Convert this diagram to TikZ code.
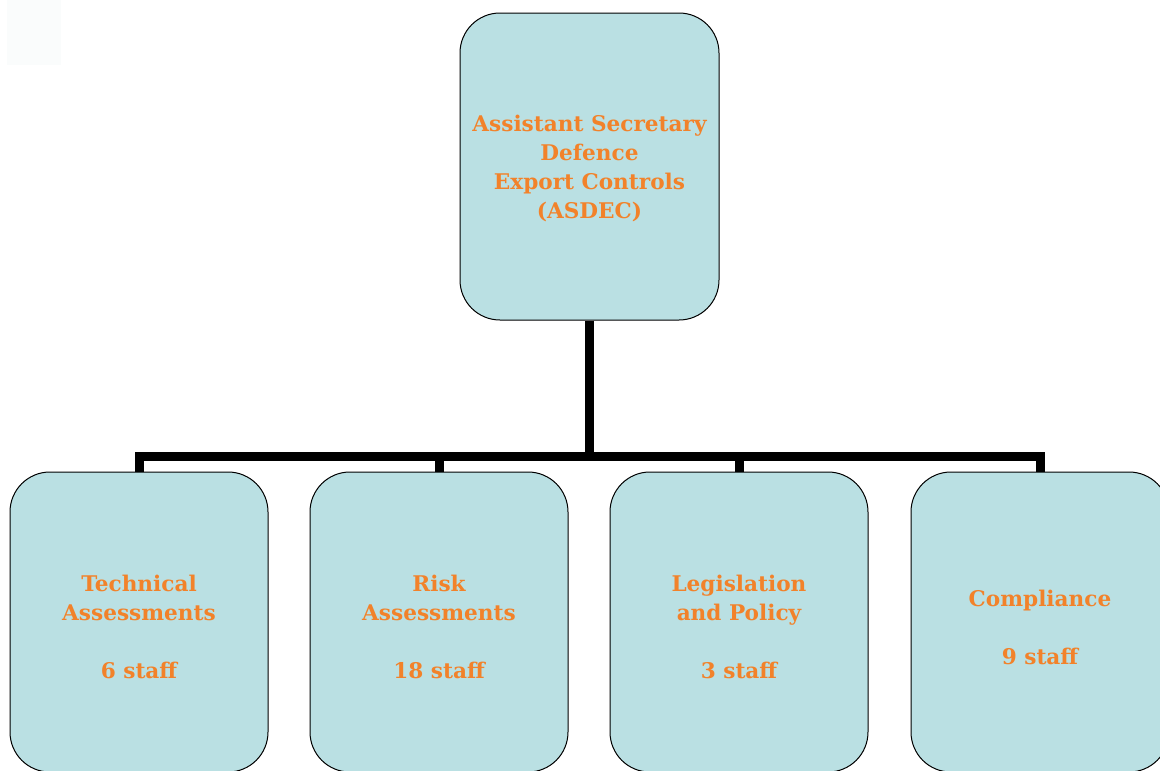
\documentclass[tikz,border=0pt]{standalone}
\usepackage{fontspec}
\setmainfont{DejaVu Serif}
\definecolor{boxfill}{RGB}{186,224,227}
\definecolor{txtorange}{RGB}{242,130,42}
\definecolor{faint}{RGB}{250,252,252}
\begin{document}
\begin{tikzpicture}[x=1pt,y=-1pt,
  orgbox/.style={draw=black,line width=1pt,fill=boxfill,rounded corners=40pt,inner sep=0pt},
  topbox/.style={orgbox,minimum width=259pt,minimum height=307pt},
  lowbox/.style={orgbox,minimum width=258pt,minimum height=300pt},
  boxtext/.style={align=center,text=txtorange,inner sep=0pt,
    font=\fontsize{21.6}{29}\selectfont\bfseries},
  link/.style={line width=9pt,draw=black,line join=miter,line cap=butt}]
\useasboundingbox (0,0) rectangle (1160,771);
\fill[faint] (7,0) rectangle (61,65);
\node[topbox] (top) at (589.5,166.5) {};
\node[lowbox] (b1) at (139,622) {};
\node[lowbox] (b2) at (439,622) {};
\node[lowbox] (b3) at (739,622) {};
\node[lowbox] (b4) at (1040,622) {};
\node[boxtext] (ttop) at ([yshift=-2pt]top.center) {Assistant Secretary\\Defence\\Export Controls\\(ASDEC)};
\node[boxtext] (t1) at ([yshift=-5pt]b1.center) {Technical\\Assessments\\[29pt]6 staff};
\node[boxtext] (t2) at ([yshift=-5pt]b2.center) {Risk\\Assessments\\[29pt]18 staff};
\node[boxtext] (t3) at ([yshift=-5pt]b3.center) {Legislation\\and Policy\\[29pt]3 staff};
\node[boxtext] (t4) at ([yshift=-5pt]b4.center) {Compliance\\[29pt]9 staff};
\coordinate (bar) at (0,456.5);
\draw[link] (b1.north) -- (b1.north |- bar) -- (b4.north |- bar) -- (b4.north);
\draw[link] (top.south) -- (top.south |- bar);
\draw[link] (b2.north) -- (b2.north |- bar);
\draw[link] (b3.north) -- (b3.north |- bar);
\end{tikzpicture}
\end{document}
